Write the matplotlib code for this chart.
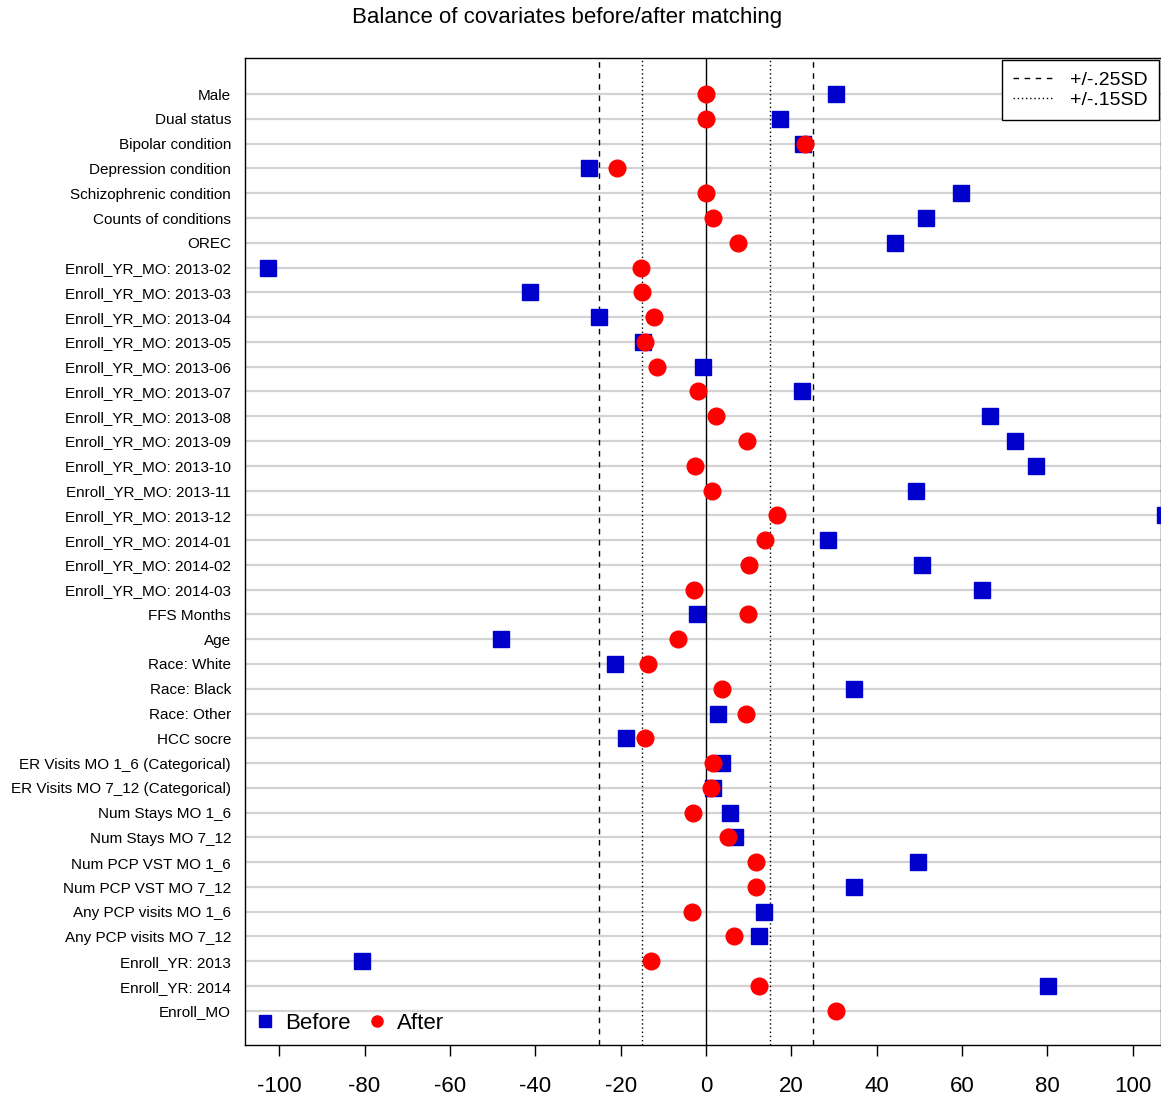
import numpy as np
import matplotlib
matplotlib.use("Agg")
from matplotlib import pyplot as plt
from matplotlib.lines import Line2D

plt.rcParams['font.family'] = ['Liberation Sans', 'DejaVu Sans']

# covariates, top to bottom
labels = [
    "Male", "Dual status", "Bipolar condition", "Depression condition",
    "Schizophrenic condition", "Counts of conditions", "OREC",
    "Enroll_YR_MO: 2013-02", "Enroll_YR_MO: 2013-03", "Enroll_YR_MO: 2013-04",
    "Enroll_YR_MO: 2013-05", "Enroll_YR_MO: 2013-06", "Enroll_YR_MO: 2013-07",
    "Enroll_YR_MO: 2013-08", "Enroll_YR_MO: 2013-09", "Enroll_YR_MO: 2013-10",
    "Enroll_YR_MO: 2013-11", "Enroll_YR_MO: 2013-12", "Enroll_YR_MO: 2014-01",
    "Enroll_YR_MO: 2014-02", "Enroll_YR_MO: 2014-03", "FFS Months", "Age",
    "Race: White", "Race: Black", "Race: Other", "HCC socre",
    "ER Visits MO 1_6 (Categorical)", "ER Visits MO 7_12 (Categorical)",
    "Num Stays MO 1_6", "Num Stays MO 7_12", "Num PCP VST MO 1_6",
    "Num PCP VST MO 7_12", "Any PCP visits MO 1_6", "Any PCP visits MO 7_12",
    "Enroll_YR: 2013", "Enroll_YR: 2014", "Enroll_MO",
]

# standardized differences (%) before matching
before = [
    30.5, 17.3, 22.7, -27.4, 59.8, 51.6, 44.3,
    -102.6, -41.2, -25.1, -14.8, -0.7, 22.5,
    66.6, 72.4, 77.3, 49.2, 107.5, 28.6,
    50.6, 64.7, -2.1, -48.0,
    -21.3, 34.7, 2.8, -18.7,
    3.7, 1.7, 5.6, 6.8, 49.7,
    34.7, 13.6, 12.4,
    -80.6, 80.2, np.nan,
]

# standardized differences (%) after matching
after = [
    0.0, 0.0, 23.2, -20.9, 0.0, 1.6, 7.5,
    -15.2, -15.0, -12.2, -14.3, -11.5, -1.9,
    2.3, 9.6, -2.6, 1.4, 16.6, 13.8,
    10.1, -2.8, 9.8, -6.6,
    -13.6, 3.7, 9.4, -14.3,
    1.7, 1.2, -3.0, 5.1, 11.7,
    11.7, -3.3, 6.6,
    -12.9, 12.4, 30.5,
]

xticks = [-100, -80, -60, -40, -20, 0, 20, 40, 60, 80, 100]

n = len(labels)
ypos = np.arange(n, 0, -1)

fig = plt.figure(figsize=(11.61, 11.01), dpi=100)
ax = fig.add_axes([245 / 1161, 56 / 1101, (1161 - 245) / 1161, (1043 - 56) / 1101])

for y in ypos:
    ax.axhline(y, color='#d3d3d3', lw=1.6, zorder=0)

ax.axvline(0, color='black', lw=1.0, zorder=1)
ax.axvline(-25, color='black', lw=1.0, ls=(0, (4, 4)), zorder=1)
ax.axvline(25, color='black', lw=1.0, ls=(0, (4, 4)), zorder=1)
ax.axvline(-15, color='black', lw=1.0, ls=(0, (1, 2)), zorder=1)
ax.axvline(15, color='black', lw=1.0, ls=(0, (1, 2)), zorder=1)

ax.plot(before, ypos, 's', color='#0000cc', ms=11, mec='#0000cc', ls='none', zorder=3)
ax.plot(after, ypos, 'o', color='red', ms=12, mec='red', ls='none', zorder=4)

ax.set_xlim(-108, 106.6)
ax.set_ylim(1 - 1.38, n + 1.46)
ax.set_yticks(ypos)
ax.set_yticklabels(labels, fontsize=11)
ax.tick_params(axis='y', length=0, pad=10)
ax.set_xticks(xticks)
ax.set_xticklabels([str(v) for v in xticks], fontsize=16)
ax.tick_params(axis='x', length=8, width=1, pad=14)
for sp in ax.spines.values():
    sp.set_linewidth(1.0)

fig.suptitle("Balance of covariates before/after matching", x=567 / 1161, y=0.994, fontsize=16)

sd_handles = [Line2D([], [], color='black', lw=1, ls=(0, (4, 4))),
              Line2D([], [], color='black', lw=1, ls=(0, (1, 2)))]
leg1 = ax.legend(sd_handles, ["+/-.25SD", "+/-.15SD"], loc='upper right',
                 fontsize=14, frameon=True, fancybox=False, edgecolor='black',
                 borderpad=0.6, labelspacing=0.1, handlelength=2.0,
                 handletextpad=0.9, borderaxespad=0.1, framealpha=1)
leg1.get_frame().set_linewidth(1.0)
ax.add_artist(leg1)

pt_handles = [Line2D([], [], marker='s', color='#0000cc', ls='none', ms=8),
              Line2D([], [], marker='o', color='red', ls='none', ms=8)]
ax.legend(pt_handles, ["Before", "After"], loc='lower left', ncol=2,
          fontsize=16, frameon=False, handlelength=0.8, handletextpad=0.5,
          columnspacing=0.8, borderaxespad=0.1, borderpad=0.4)

fig.savefig("out.png", dpi=100)
